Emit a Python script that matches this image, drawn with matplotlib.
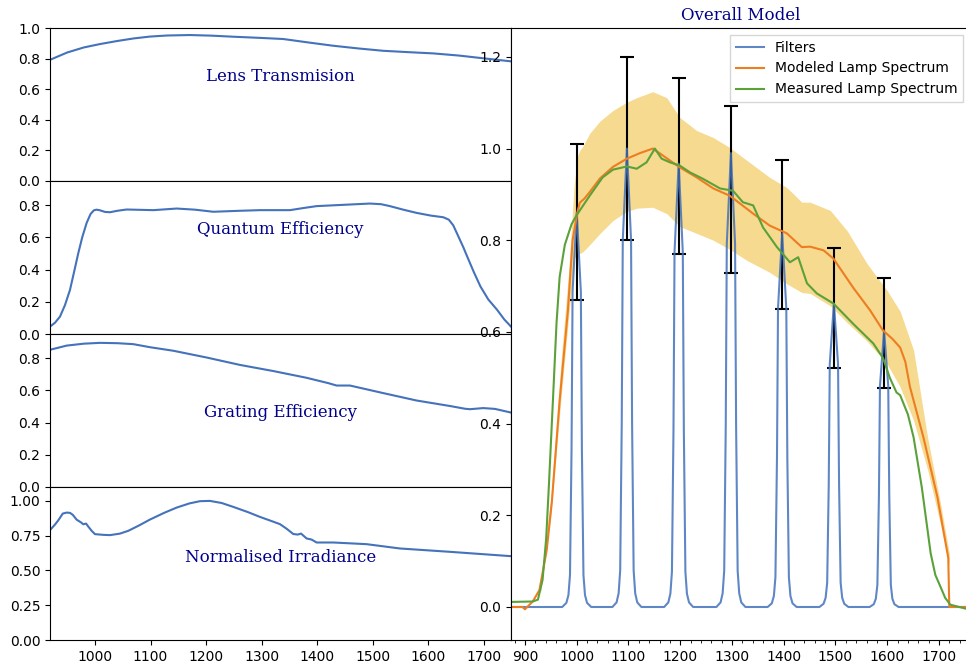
import matplotlib
matplotlib.use('Agg')
import matplotlib.pyplot as plt
from matplotlib.ticker import MultipleLocator

# left column: component curves (wavelength in nm)
lens_x = [919, 950, 980, 1009, 1040, 1070, 1099, 1130, 1171, 1210, 1249, 1300, 1339, 1385,
          1429, 1475, 1519, 1565, 1609, 1655, 1699, 1749]
lens_y = [0.792, 0.84, 0.873, 0.895, 0.915, 0.932, 0.944, 0.951, 0.954, 0.95, 0.943, 0.935,
          0.928, 0.905, 0.884, 0.866, 0.851, 0.842, 0.834, 0.82, 0.802, 0.782]

qe_x = [919, 928, 937, 946, 955, 962, 970, 977, 985, 992, 998, 1003, 1009, 1018, 1027,
        1040, 1057, 1105, 1147, 1180, 1213, 1260, 1297, 1351, 1375, 1399, 1459, 1495, 1515,
        1531, 1555, 1579, 1605, 1627, 1637, 1645, 1655, 1663, 1670, 1682, 1694, 1708, 1724,
        1737, 1749]
qe_y = [0.046, 0.07, 0.108, 0.18, 0.274, 0.38, 0.503, 0.6, 0.69, 0.745, 0.768, 0.772,
        0.768, 0.758, 0.756, 0.765, 0.773, 0.769, 0.779, 0.772, 0.759, 0.765, 0.769, 0.769,
        0.782, 0.794, 0.804, 0.81, 0.806, 0.794, 0.772, 0.752, 0.735, 0.725, 0.71, 0.675,
        0.6, 0.54, 0.482, 0.385, 0.295, 0.215, 0.15, 0.09, 0.046]

grat_x = [919, 949, 980, 1009, 1040, 1069, 1099, 1141, 1201, 1261, 1321, 1381, 1420, 1435,
          1459, 1519, 1579, 1639, 1666, 1675, 1699, 1720, 1748]
grat_y = [0.852, 0.878, 0.89, 0.895, 0.893, 0.887, 0.868, 0.846, 0.804, 0.758, 0.72, 0.678,
          0.645, 0.63, 0.63, 0.583, 0.537, 0.503, 0.486, 0.483, 0.49, 0.485, 0.463]

irr_x = [919, 928, 934, 938, 942, 949, 955, 960, 967, 975, 979, 984, 988, 994, 1000, 1015,
         1027, 1045, 1060, 1080, 1099, 1125, 1147, 1170, 1189, 1207, 1228, 1249, 1275, 1297,
         1320, 1333, 1345, 1357, 1365, 1371, 1381, 1390, 1399, 1429, 1489, 1549, 1639, 1748]
irr_y = [0.79, 0.83, 0.861, 0.885, 0.909, 0.916, 0.914, 0.9, 0.865, 0.845, 0.832, 0.837,
         0.815, 0.785, 0.761, 0.756, 0.754, 0.765, 0.785, 0.825, 0.866, 0.915, 0.952, 0.982,
         0.998, 1.0, 0.985, 0.957, 0.92, 0.885, 0.852, 0.833, 0.8, 0.762, 0.758, 0.765,
         0.73, 0.722, 0.701, 0.701, 0.689, 0.658, 0.634, 0.603]

panel_names = ['Lens Transmision', 'Quantum Efficiency', 'Grating Efficiency',
               'Normalised Irradiance']

# right panel: overall model
filt_x = [872,
          972, 980, 984, 987, 990, 992, 1000, 1008, 1010, 1013, 1016, 1020, 1028,
          1069, 1077, 1081, 1084, 1087, 1089, 1097, 1105, 1107, 1110, 1113, 1117, 1125,
          1169, 1177, 1181, 1184, 1187, 1189, 1197, 1205, 1207, 1210, 1213, 1217, 1225,
          1270, 1278, 1282, 1285, 1288, 1290, 1298, 1306, 1308, 1311, 1314, 1318, 1326,
          1369, 1377, 1381, 1384, 1387, 1389, 1397, 1405, 1407, 1410, 1413, 1417, 1425,
          1469, 1477, 1481, 1484, 1487, 1489, 1497, 1505, 1507, 1510, 1513, 1517, 1525,
          1566, 1574, 1578, 1581, 1584, 1586, 1594, 1602, 1604, 1607, 1610, 1614, 1622,
          1760]
filt_y = [0.0,
          0, 0.009, 0.026, 0.07, 0.344, 0.688, 0.86, 0.688, 0.344, 0.07, 0.026, 0.009, 0,
          0, 0.01, 0.03, 0.08, 0.4, 0.8, 1.0, 0.8, 0.4, 0.08, 0.03, 0.01, 0,
          0, 0.01, 0.029, 0.077, 0.387, 0.774, 0.967, 0.774, 0.387, 0.077, 0.029, 0.01, 0,
          0, 0.01, 0.03, 0.079, 0.396, 0.792, 0.99, 0.792, 0.396, 0.079, 0.03, 0.01, 0,
          0, 0.008, 0.024, 0.065, 0.326, 0.652, 0.815, 0.652, 0.326, 0.065, 0.024, 0.008, 0,
          0, 0.007, 0.02, 0.053, 0.265, 0.53, 0.662, 0.53, 0.265, 0.053, 0.02, 0.007, 0,
          0, 0.006, 0.018, 0.048, 0.241, 0.482, 0.603, 0.482, 0.241, 0.048, 0.018, 0.006, 0,
          0.0]

model_x = [872, 895, 900, 915, 928, 942, 952, 967, 983, 992, 1002, 1006, 1015, 1025, 1045,
           1070, 1097, 1122, 1147, 1160, 1180, 1199, 1232, 1264, 1296, 1341, 1373, 1406,
           1435, 1451, 1477, 1496, 1534, 1567, 1592, 1610, 1625, 1635, 1644, 1670, 1697,
           1718, 1720, 1760]
model_y = [0.0, 0.0, -0.005, 0.012, 0.037, 0.124, 0.23, 0.45, 0.647, 0.80, 0.865, 0.882,
           0.891, 0.905, 0.935, 0.96, 0.978, 0.99, 1.0, 0.99, 0.974, 0.959, 0.937, 0.913,
           0.897, 0.858, 0.832, 0.815, 0.785, 0.786, 0.778, 0.76, 0.697, 0.647, 0.603,
           0.585, 0.566, 0.535, 0.48, 0.37, 0.24, 0.107, 0.0, 0.0]

meas_x = [872, 915, 925, 934, 941, 946, 954, 961, 967, 977, 990, 1000, 1025, 1050, 1070,
          1097, 1116, 1135, 1151, 1164, 1180, 1199, 1219, 1244, 1277, 1302, 1321, 1341,
          1360, 1387, 1412, 1428, 1445, 1464, 1496, 1534, 1573, 1592, 1605, 1618, 1625,
          1640, 1651, 1667, 1684, 1693, 1703, 1712, 1722, 1760]
meas_y = [0.011, 0.012, 0.016, 0.059, 0.15, 0.26, 0.45, 0.62, 0.72, 0.79, 0.835, 0.855,
          0.897, 0.937, 0.954, 0.961, 0.956, 0.97, 1.0, 0.978, 0.97, 0.963, 0.948, 0.934,
          0.913, 0.908, 0.883, 0.876, 0.828, 0.785, 0.752, 0.763, 0.706, 0.684, 0.662,
          0.618, 0.575, 0.543, 0.5, 0.468, 0.462, 0.42, 0.37, 0.26, 0.117, 0.07, 0.044,
          0.02, 0.005, -0.006]

band_x = [930, 950, 970, 985, 995, 1002, 1006, 1012, 1025, 1045, 1070, 1095, 1116, 1147,
          1174, 1199, 1232, 1264, 1296, 1329, 1373, 1406, 1435, 1451, 1490, 1523, 1561,
          1600, 1625, 1651, 1678, 1703, 1720]
band_hi = [0.05, 0.24, 0.54, 0.74, 0.92, 0.985, 0.996, 1.005, 1.033, 1.06, 1.083, 1.1,
           1.111, 1.124, 1.111, 1.068, 1.039, 1.024, 1.002, 0.974, 0.937, 0.915, 0.883,
           0.883, 0.865, 0.82, 0.749, 0.69, 0.645, 0.56, 0.37, 0.226, 0.117]
band_lo = [0.03, 0.2, 0.46, 0.64, 0.76, 0.77, 0.771, 0.775, 0.79, 0.815, 0.843, 0.862,
           0.87, 0.872, 0.858, 0.83, 0.815, 0.8, 0.78, 0.756, 0.73, 0.705, 0.686, 0.684,
           0.657, 0.62, 0.58, 0.53, 0.48, 0.407, 0.3, 0.18, 0.09]

err_x = [1000, 1097, 1197, 1298, 1397, 1497, 1594]
err_y = [0.84, 1.0, 0.962, 0.91, 0.813, 0.652, 0.598]
err_e = [0.17, 0.2, 0.193, 0.182, 0.163, 0.131, 0.12]

blue = '#4472bb'
orange = '#ee7d22'
green = '#5ba13a'
label_font = dict(family='DejaVu Serif', size=12, color='darkblue')

fig = plt.figure(figsize=(9.66, 6.64), dpi=100)

bottom = 24 / 664
ph = 153 / 664
left, lw = 50 / 966, 461 / 966

left_axes = []
for i in range(4):
    ax = fig.add_axes([left, bottom + (3 - i) * ph, lw, ph])
    left_axes.append(ax)

curves = [(lens_x, lens_y), (qe_x, qe_y), (grat_x, grat_y), (irr_x, irr_y)]
ylims = [(0, 1.0), (0, 0.95), (0, 0.95), (0, 1.1)]
text_y = [0.68, 0.68, 0.49, 0.54]
for ax, (x, y), yl, name, ty in zip(left_axes, curves, ylims, panel_names, text_y):
    ax.plot(x, y, color=blue, lw=1.5)
    ax.set_xlim(919, 1749)
    ax.set_ylim(*yl)
    ax.text(0.5, ty, name, transform=ax.transAxes, ha='center', va='center', **label_font)
    ax.tick_params(labelsize=10)

for ax in left_axes[:3]:
    ax.yaxis.set_major_locator(MultipleLocator(0.2))
    ax.tick_params(axis='x', length=0, labelbottom=False)
left_axes[3].yaxis.set_major_locator(MultipleLocator(0.25))
left_axes[3].yaxis.set_major_formatter('{x:.2f}')
left_axes[3].xaxis.set_major_locator(MultipleLocator(100))

# overall model
axr = fig.add_axes([511 / 966, bottom, 459 / 966, 4 * ph])
axr.fill_between(band_x, band_lo, band_hi, color='#f5da8f', lw=0)
axr.errorbar(err_x, err_y, yerr=err_e, fmt='none', ecolor='black', elinewidth=1.5,
             capsize=5, capthick=1.5)
axr.plot(filt_x, filt_y, color=blue, lw=1.5, alpha=0.85, label='Filters')
axr.plot(model_x, model_y, color=orange, lw=1.5, label='Modeled Lamp Spectrum')
axr.plot(meas_x, meas_y, color=green, lw=1.5, label='Measured Lamp Spectrum')
axr.set_xlim(873, 1760)
axr.set_ylim(-0.072, 1.263)
axr.xaxis.set_major_locator(MultipleLocator(100))
axr.xaxis.set_minor_locator(MultipleLocator(20))
axr.yaxis.set_major_locator(MultipleLocator(0.2))
axr.tick_params(labelsize=10)
axr.set_title('Overall Model', **label_font)
axr.legend(loc='upper right', fontsize=10, fancybox=False)

fig.savefig('out.png', dpi=100)
